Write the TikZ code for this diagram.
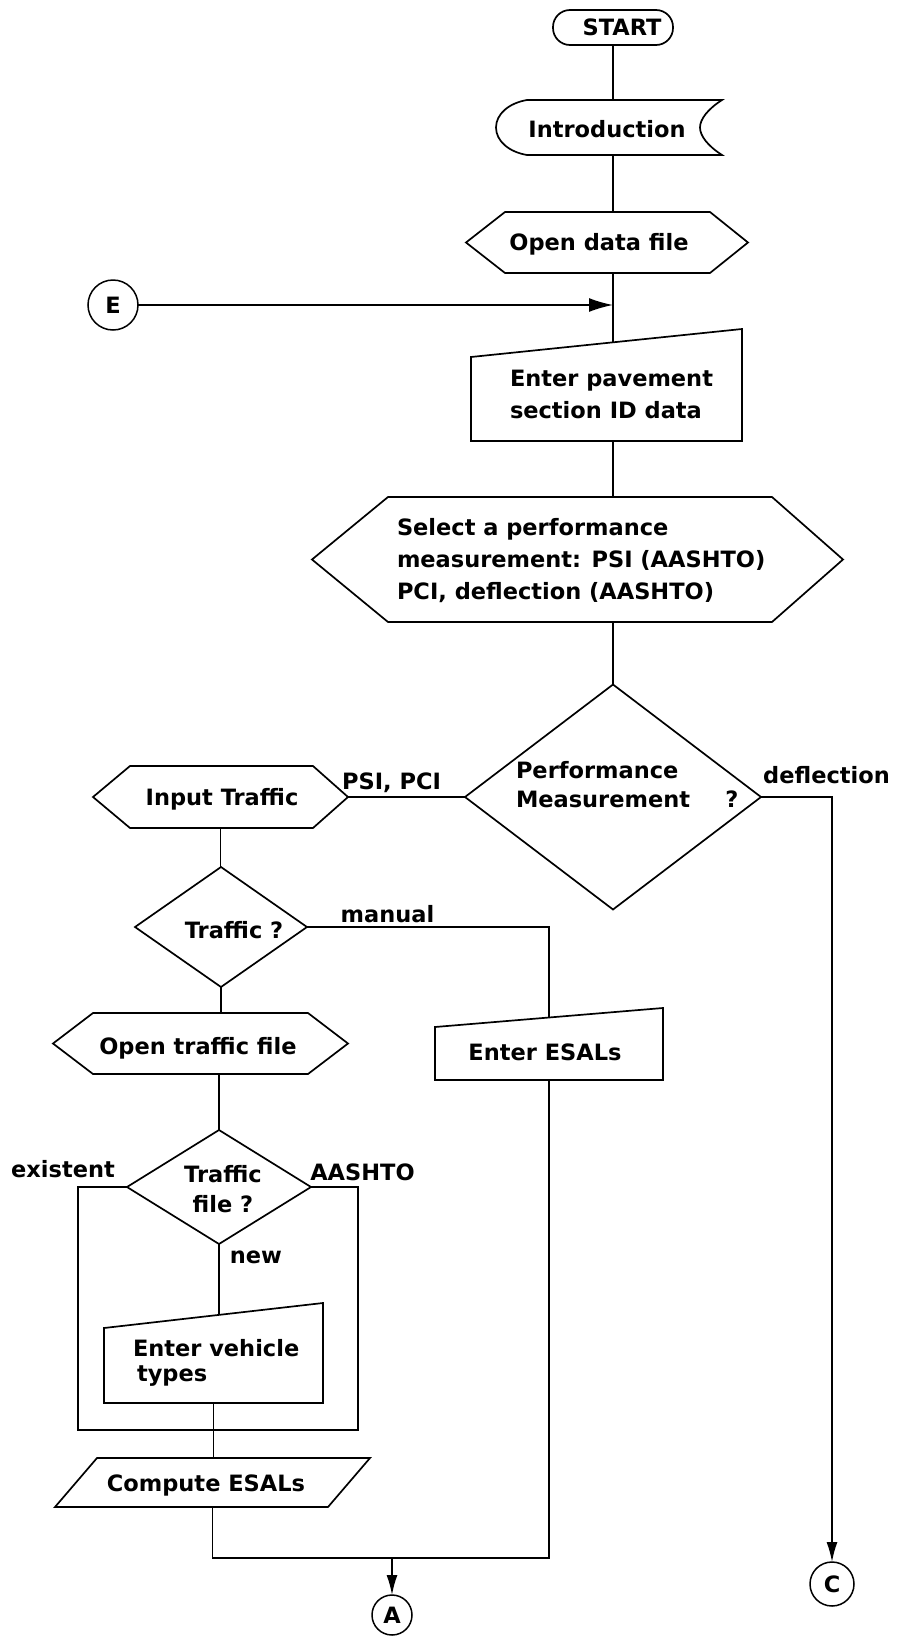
\documentclass[tikz,border=0pt]{standalone}
\usepackage{fontspec}
\newfontfamily\chartfont{DejaVu Sans}
\usetikzlibrary{shapes.geometric,arrows.meta,calc}

\begin{document}
\begin{tikzpicture}[x=1pt, y=-1pt,
  every node/.style={inner sep=0pt, outer sep=0pt,
    font=\chartfont\bfseries\fontsize{22.5}{32}\selectfont},
  shapebox/.style args={#1x#2}{rectangle, minimum width=#1pt, minimum height=#2pt},
  outline/.style={draw, line width=1.7pt, line join=miter},
  flow/.style={draw, line width=1.6pt},
  arrowA/.style={-{Latex[length=20pt,width=11pt]}},
  arrowE/.style={-{Latex[length=24pt,width=14pt]}},
  decision/.style args={#1x#2}{diamond, draw, line width=1.7pt,
    minimum width=#1pt, minimum height=#2pt},
  link/.style={circle, draw, line width=1.5pt, minimum size=#1pt},
  txt/.style={anchor=base},
  textblock/.style={anchor=north west, align=left},
]
\fill[white] (0,0) rectangle (898,1636);
\useasboundingbox (0,0) rectangle (898,1636);

% ---- start terminal
\node[draw, line width=1.7pt, rounded corners=17pt, minimum width=120pt,
      minimum height=35pt] (start) at (613,27.5) {\hspace*{18pt}START};

% ---- introduction (display symbol)
\node[shapebox=226x55] (intro) at (609,127.5) {};
\draw[outline] (527,100) -- (722,100)
  .. controls (708,109) and (700,119) .. (700,127.5)
  .. controls (700,136) and (708,146) .. (722,155)
  -- (527,155)
  .. controls (509,152) and (496,141) .. (496,127.5)
  .. controls (496,114) and (509,103) .. (527,100) -- cycle;
\node[txt] (introtext) at (607,137) {Introduction};
\draw[flow] (start.south) -- (start.south |- intro.north);

% ---- open data file (preparation)
\node[shapebox=282x61] (odf) at (607,242.5) {};
\draw[outline] (466,242.5) -- (505,212) -- (710,212) -- (748,242.5)
  -- (710,273) -- (505,273) -- cycle;
\node[txt] (odftext) at (599,250) {Open data file};
\draw[flow] (intro.south -| start.south) -- (odf.north -| start.south);

% ---- entry connector E
\node[link=50] (E) at (113,305) {E};
\draw[flow, arrowE] (E) -- (E -| start.south);

% ---- enter pavement section (manual input)
\node[shapebox=271x112] (pave) at (606.5,385) {};
\draw[outline] (471,357) -- (742,329) -- (742,441) -- (471,441) -- cycle;
\coordinate (pavein) at (613,342.3);
\node[textblock] (pavetext) at (510,370) {Enter pavement\\section ID data};
\draw[flow] (odf.south -| start.south) -- (pavein);

% ---- select performance measurement
\node[shapebox=531x125] (sel) at (577.5,559.5) {};
\draw[outline] (312,559.5) -- (388,497) -- (772,497) -- (843,559.5)
  -- (772,622) -- (388,622) -- cycle;
\node[textblock] (seltext) at (397,518)
  {Select a performance\\measurement: PSI (AASHTO)\\PCI, deflection (AASHTO)};
\draw[flow] (pave.south -| start.south) -- (sel.north -| start.south);

% ---- performance measurement decision
\node[decision=296x225] (perf) at (613,797) {};
\node[textblock, font=\chartfont\bfseries\fontsize{22.5}{29}\selectfont]
  (perftext) at (516,761) {Performance\\Measurement};
\node[txt] (perfq) at (732,807) {?};
\draw[flow] (sel.south -| start.south) -- (perf.north);

% ---- input traffic
\node[shapebox=255x62] (inp) at (220.5,797) {};
\draw[outline] (93,797) -- (130,766) -- (313,766) -- (348,797)
  -- (313,828) -- (130,828) -- cycle;
\node[txt] (inptext) at (222,805) {Input Traffic};
\draw[flow] (perf.west) -- (inp.east);
\node[txt] (psi) at (391.5,789) {PSI, PCI};

% ---- deflection branch to connector C
\node[link=44] (C) at (832,1584) {C};
\draw[flow, arrowA] (perf.east) -| (C.north);
\node[txt] (defl) at (826.5,783) {deflection};

% ---- traffic decision
\node[decision=172x120] (tq) at (221,927) {};
\node[txt] (tqtext) at (234,938) {Traffic ?};
\draw[flow] (inp.south) -- (inp.south |- tq.north);

% ---- enter ESALs (manual input)
\node[shapebox=228x72] (esal) at (549,1044) {};
\draw[outline] (435,1027) -- (663,1008) -- (663,1080) -- (435,1080) -- cycle;
\coordinate (esalin) at (549,1017.5);
\node[txt] (esaltext) at (545,1060) {Enter ESALs};
\draw[flow] (tq.east) -| (esalin);
\node[txt] (manual) at (387.5,922) {manual};

% ---- open traffic file
\node[shapebox=295x61] (otf) at (200.5,1043.5) {};
\draw[outline] (53,1043.5) -- (93,1013) -- (308,1013) -- (348,1043.5)
  -- (308,1074) -- (93,1074) -- cycle;
\node[txt] (otftext) at (198,1054) {Open traffic file};
\draw[flow] (tq.south) -- (tq.south |- otf.north);

% ---- traffic file decision
\node[decision=184x114] (tf) at (219,1187) {};
\node[anchor=north, align=center,
      font=\chartfont\bfseries\fontsize{22.5}{30}\selectfont]
  (tftext) at (223,1165) {Traffic\\file ?};
\draw[flow] (otf.south -| tf.north) -- (tf.north);
\coordinate (loopbl) at (78,1430);
\coordinate (loopbr) at (358,1430);
\draw[flow] (tf.west) -| (loopbl) -- (loopbr) |- (tf.east);
\node[txt] (exist) at (63,1177) {existent};
\node[txt] (aashto) at (362.5,1180) {AASHTO};
\node[txt] (newlab) at (256,1263) {new};

% ---- enter vehicle types (manual input)
\node[shapebox=219x100] (veh) at (213.5,1353) {};
\draw[outline] (104,1328) -- (323,1303) -- (323,1403) -- (104,1403) -- cycle;
\coordinate (vehin) at (219,1314.9);
\draw[flow] (tf.south) -- (vehin);
\node[textblock, font=\chartfont\bfseries\fontsize{22.5}{25}\selectfont]
  (vehtext) at (133,1339) {Enter vehicle\\\hspace*{4pt}types};

% ---- compute ESALs
\node[shapebox=315x49] (comp) at (212.5,1482.5) {};
\draw[outline] (97,1458) -- (370,1458) -- (328,1507) -- (55,1507) -- cycle;
\node[txt] (comptext) at (206,1491) {Compute ESALs};
\draw[flow] (veh.south) -- (veh.south |- comp.north);

% ---- merge to connector A
\coordinate (ajoin) at (392,1558);
\node[link=40] (A) at (392,1615) {A};
\draw[flow] (comp.south) |- (ajoin) -| (esal.south);
\draw[flow, arrowA] (ajoin) -- (A.north);
\end{tikzpicture}
\end{document}
